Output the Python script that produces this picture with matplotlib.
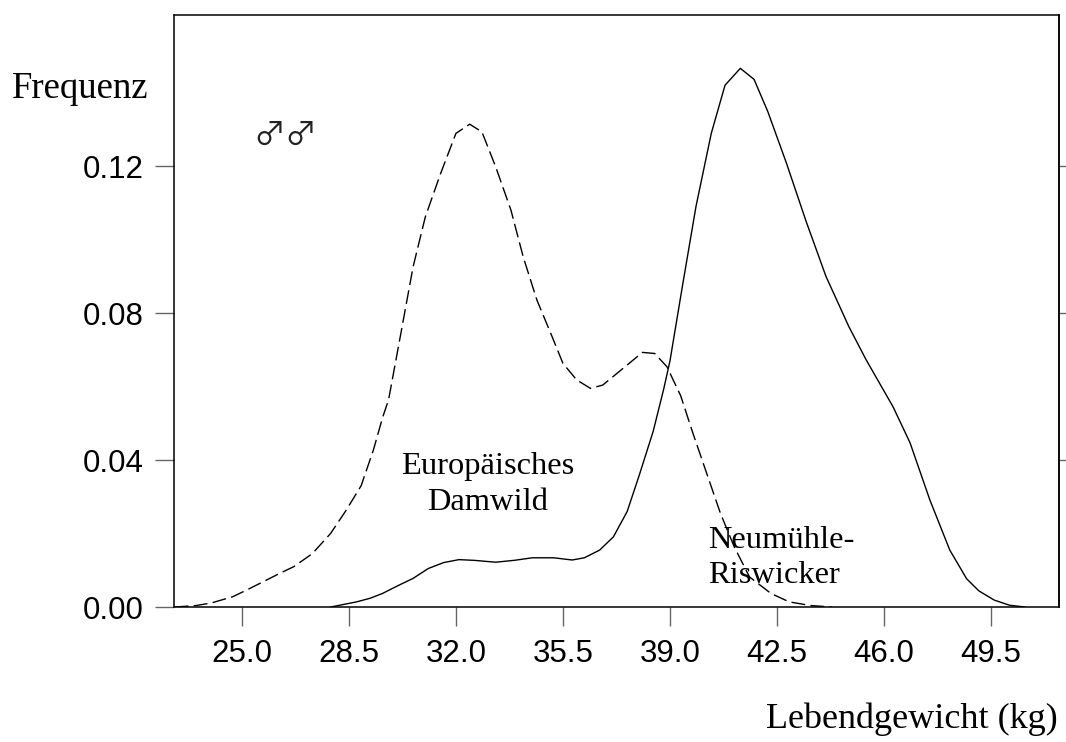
import numpy as np
import matplotlib
matplotlib.use('Agg')
import matplotlib.pyplot as plt

# === Data (density curves) ===
# Europäisches Damwild (dashed)
damwild_x = [22.8, 23.5, 24.0, 24.7, 25.2, 25.7, 26.2, 26.7, 27.3, 27.9, 28.4, 28.9,
             29.3, 29.6, 29.8, 30.2, 30.6, 31.0, 31.5, 32.0, 32.45, 32.85, 33.3, 33.8,
             34.2, 34.65, 35.1, 35.5, 35.95, 36.4, 36.8, 37.4, 38.1, 38.5, 38.9, 39.35,
             39.75, 40.2, 40.65, 41.1, 41.6, 42.3, 42.9, 43.6, 44.3]
damwild_y = [0.0, 0.0004, 0.0011, 0.0028, 0.0048, 0.0069, 0.0090, 0.0110, 0.0145, 0.0200,
             0.0262, 0.0330, 0.0427, 0.0515, 0.0565, 0.0745, 0.0926, 0.1062, 0.1180, 0.1289,
             0.1314, 0.1293, 0.1198, 0.1080, 0.0953, 0.0835, 0.0745, 0.0663, 0.0618, 0.0595,
             0.0604, 0.0645, 0.0693, 0.0690, 0.0654, 0.0575, 0.0473, 0.0364, 0.0255, 0.0164,
             0.0082, 0.0037, 0.0014, 0.0004, 0.0]

# Neumühle-Riswicker (solid)
riswick_x = [27.9, 28.75, 29.2, 29.6, 30.1, 30.6, 31.1, 31.6, 32.1, 32.6, 33.3, 33.9,
             34.5, 35.2, 35.8, 36.2, 36.7, 37.15, 37.6, 38.0, 38.45, 38.8, 39.0, 39.4,
             39.85, 40.35, 40.8, 41.3, 41.75, 42.2, 42.8, 43.45, 44.1, 44.85, 45.4, 46.3,
             46.85, 47.5, 48.15, 48.7, 49.1, 49.6, 50.1, 50.6]
riswick_y = [0.0, 0.0014, 0.0024, 0.0037, 0.0058, 0.0078, 0.0105, 0.0121, 0.0129, 0.0127,
             0.0122, 0.0127, 0.0134, 0.0134, 0.0128, 0.0134, 0.0155, 0.0191, 0.0260, 0.0360,
             0.0478, 0.0595, 0.0670, 0.0870, 0.1090, 0.1289, 0.1420, 0.1466, 0.1436, 0.1348,
             0.1210, 0.1050, 0.0900, 0.0763, 0.0675, 0.0544, 0.0447, 0.0291, 0.0155, 0.0077,
             0.0044, 0.0019, 0.0005, 0.0]

x_ticks = [25.0, 28.5, 32.0, 35.5, 39.0, 42.5, 46.0, 49.5]
y_ticks = [0.00, 0.04, 0.08, 0.12]
y_ticks_right = [0.04, 0.08, 0.12]

sans = 'Liberation Sans'
serif = 'Liberation Serif'
tick_grey = '#666666'

# === Figure ===
fig = plt.figure(figsize=(10.66, 7.42), dpi=100)
ax = fig.add_axes([0.1632, 0.1819, 0.9934 - 0.1632, 0.9802 - 0.1819])

ax.plot(riswick_x, riswick_y, color='black', lw=1.0)
ax.plot(damwild_x, damwild_y, color='black', lw=1.0, dashes=(10, 3.8))

ax.set_xlim(22.78, 51.72)
ax.set_ylim(0, 0.1612)

ax.set_xticks(x_ticks)
ax.set_xticklabels([f'{v:.1f}' for v in x_ticks], fontfamily=sans, fontsize=22.5)
ax.set_yticks(y_ticks)
ax.set_yticklabels([f'{v:.2f}' for v in y_ticks], fontfamily=sans, fontsize=22.5)
ax.tick_params(axis='both', direction='out', length=13.5, width=1.0,
               color=tick_grey, labelcolor='black')
ax.tick_params(axis='x', pad=9.5)
ax.tick_params(axis='y', pad=8.5)

for sp in ax.spines.values():
    sp.set_linewidth(1.1)
    sp.set_color('black')

# short ticks on the right side
sec = ax.secondary_yaxis('right')
sec.set_yticks(y_ticks_right)
sec.tick_params(direction='out', length=4.8, width=1.0, color=tick_grey, labelright=False)
sec.spines['right'].set_linewidth(1.1)

# annotations (va='baseline' anchors the last line here)
ax.text(33.05, 0.0264, 'Europäisches\nDamwild', ha='center', va='baseline',
        multialignment='center', fontfamily=serif, fontsize=23.4, linespacing=1.3)
ax.text(40.24, 0.0065, 'Neumühle-\nRiswicker', ha='left', va='baseline',
        fontfamily=serif, fontsize=23.4, linespacing=1.3)

fig.text(0.0113, 0.868, 'Frequenz', ha='left', va='baseline',
         fontfamily=serif, fontsize=26.5)
fig.text(0.9925, 0.019, 'Lebendgewicht (kg)', ha='right', va='baseline',
         fontfamily=serif, fontsize=26)
fig.text(0.238, 0.805, '♂♂', ha='left', va='baseline',
         fontfamily=['Noto Sans CJK JP', 'DejaVu Sans'], fontsize=23, color='#222222')

fig.savefig('out.png', dpi=100)
